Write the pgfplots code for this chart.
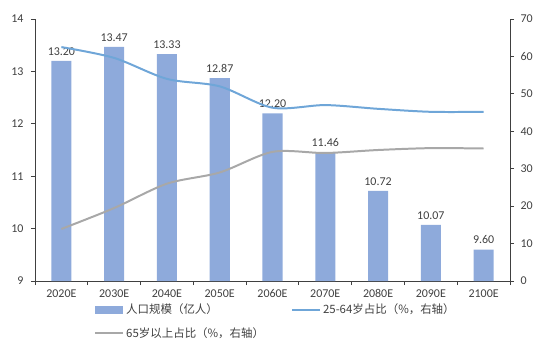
\documentclass[border=0pt]{standalone}
\usepackage{fontspec}
\setmainfont{Carlito}
\newfontfamily\cjk{Noto Sans CJK SC}
\usepackage{pgfplots}
\pgfplotsset{compat=1.18}
\definecolor{barblue}{HTML}{8EAADB}
\definecolor{lineblue}{HTML}{6FA6D8}
\definecolor{linegray}{HTML}{A8A8A8}
\definecolor{txt}{HTML}{404040}
\begin{document}
\begin{tikzpicture}[font=\fontsize{12}{14}\selectfont, x=1bp, y=1bp]
\pgfplotsset{
  base/.style={
    scale only axis, width=475bp, height=262bp,
    xmin=-0.5, xmax=8.5,
    /pgf/number format/assume math mode=true,
    tick label style={text=txt, font=\fontsize{12}{14}\selectfont},
    axis line style={draw=black!75, line width=0.9pt},
    tick style={draw=black!75, line width=0.9pt},
    tick align=outside,
    major tick length=4bp,
  },
  linelegend/.style={legend image code/.code={\draw[##1] (0bp,0bp) -- (28bp,0bp);}},
}
\begin{axis}[base,
  axis x line*=bottom, axis y line*=left,
  ymin=9, ymax=14, ytick={9,...,14},
  xtick={-0.5,0.5,...,8.5},
  xticklabels={},
  extra x ticks={0,...,8},
  extra x tick labels={2020E,2030E,2040E,2050E,2060E,2070E,2080E,2090E,2100E},
  extra x tick style={major tick length=0pt, xticklabel style={yshift=-5bp}},
  yticklabel style={xshift=-4bp},
  ybar, bar width=0.38,
  nodes near coords,
  every node near coord/.append style={text=txt, font=\fontsize{12}{14}\selectfont, yshift=2bp,
    /pgf/number format/.cd, fixed, fixed zerofill, precision=2, assume math mode=true},
]
\addplot[fill=barblue, draw=none] coordinates {
(0,13.20) (1,13.47) (2,13.33) (3,12.87) (4,12.20) (5,11.46) (6,10.72) (7,10.07) (8,9.60)};
\end{axis}
\begin{axis}[base,
  axis y line*=right, axis x line=none,
  ymin=0, ymax=70, ytick={0,10,...,70},
  yticklabel style={xshift=3bp},
  legend style={at={(0.118,-0.072)}, anchor=north west, draw=none, fill=none,
    font=\cjk\fontsize{11.5}{13}\selectfont, text=txt,
    /tikz/every even column/.append style={column sep=25bp},
    row sep=8bp},
  legend columns=2,
  legend cell align=left,
]
\addlegendimage{legend image code/.code={\fill[barblue] (0bp,-3.5bp) rectangle (27bp,3.5bp);}}
\addlegendentry{人口规模（亿人）}
\addplot[lineblue, line width=2pt, smooth, tension=0.5, linelegend] coordinates {
(0,62.5) (1,59.6) (2,54.0) (3,52.0) (4,46.3) (5,47.0) (6,46.0) (7,45.2) (8,45.2)};
\addlegendentry{25-64岁占比（\%，右轴）}
\addplot[linegray, line width=2pt, smooth, tension=0.5, linelegend] coordinates {
(0,13.9) (1,19.5) (2,26.0) (3,29.0) (4,34.5) (5,34.2) (6,35.0) (7,35.5) (8,35.4)};
\addlegendentry{65岁以上占比（\%，右轴）}
\end{axis}
\path (-35bp,-69bp) rectangle (515bp,281bp);
\end{tikzpicture}
\end{document}
